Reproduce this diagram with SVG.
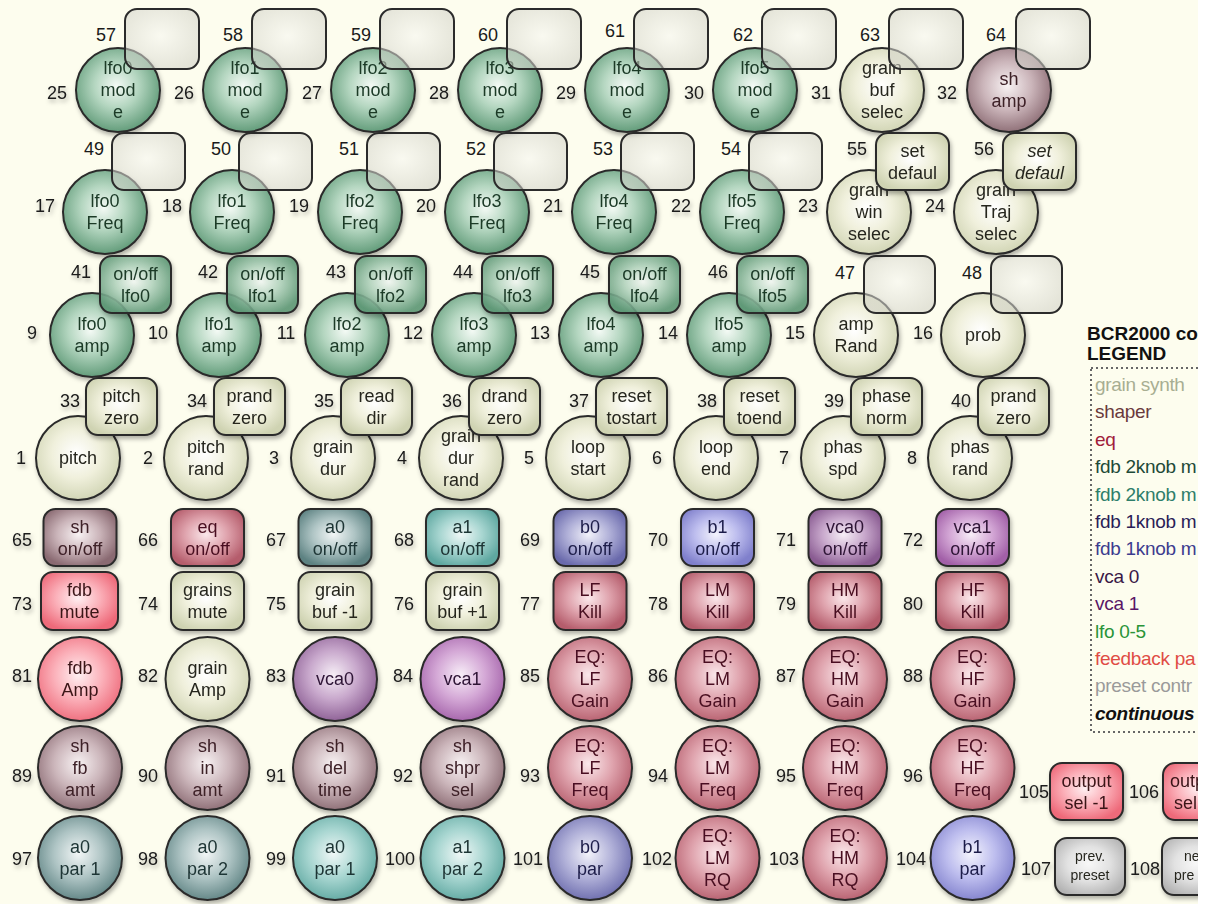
<svg xmlns="http://www.w3.org/2000/svg" width="1210" height="904" viewBox="0 0 1210 904">
<defs>
<style>
.num{font-family:"Liberation Sans",Arial,sans-serif;font-size:18px;fill:#1a1a1a;text-anchor:middle}
.t{font-family:"Liberation Sans",Arial,sans-serif;font-size:18px;text-anchor:middle;fill:#26261f}
.k{stroke:#2b2b2b;stroke-width:2}
.sd{filter:url(#ds)}
.fG{fill:url(#gG)}.fC{fill:url(#gC)}.fS{fill:url(#gS)}.fE{fill:url(#gE)}.fF{fill:url(#gF)}
.fV0{fill:url(#gV0)}.fV1{fill:url(#gV1)}.fA0{fill:url(#gA0)}.fA1{fill:url(#gA1)}.fB0{fill:url(#gB0)}.fB1{fill:url(#gB1)}
.fP{fill:url(#gP)}
.fX{fill:url(#gX);fill-opacity:0.55}
.fGb{fill:url(#gG);fill-opacity:0.85}
.tG{fill:#1c3a28}.tS{fill:#3e2028}.tE{fill:#4a1020}.tF{fill:#3a1418}.tV{fill:#2e1436}.tA{fill:#1e3434}.tB{fill:#1e1e4a}
.lg{font-family:"Liberation Sans",Arial,sans-serif;font-size:19px;letter-spacing:-0.3px}
</style>
<filter id="ds" x="-20%" y="-20%" width="150%" height="150%"><feDropShadow dx="1.5" dy="3" stdDeviation="2" flood-color="#000" flood-opacity="0.3"/></filter>
<radialGradient id="gG" cx="48%" cy="45%" r="58%"><stop offset="0" stop-color="#f4faf5"/><stop offset="0.45" stop-color="#b4d6c0"/><stop offset="1" stop-color="#5b9774"/></radialGradient>
<radialGradient id="gC" cx="48%" cy="45%" r="58%"><stop offset="0" stop-color="#ffffff"/><stop offset="0.5" stop-color="#f0f0dc"/><stop offset="1" stop-color="#cfd3b2"/></radialGradient>
<radialGradient id="gS" cx="48%" cy="45%" r="58%"><stop offset="0" stop-color="#f8f2f3"/><stop offset="0.5" stop-color="#cbb5ba"/><stop offset="1" stop-color="#8a6a72"/></radialGradient>
<radialGradient id="gE" cx="48%" cy="45%" r="58%"><stop offset="0" stop-color="#fbe8eb"/><stop offset="0.5" stop-color="#dfa3ad"/><stop offset="1" stop-color="#b55d6c"/></radialGradient>
<radialGradient id="gF" cx="48%" cy="45%" r="58%"><stop offset="0" stop-color="#fff0f2"/><stop offset="0.5" stop-color="#fbb0b9"/><stop offset="1" stop-color="#ee6a7a"/></radialGradient>
<radialGradient id="gV0" cx="48%" cy="45%" r="58%"><stop offset="0" stop-color="#f6eef6"/><stop offset="0.5" stop-color="#c8a8cc"/><stop offset="1" stop-color="#8a5c92"/></radialGradient>
<radialGradient id="gV1" cx="48%" cy="45%" r="58%"><stop offset="0" stop-color="#f8eef8"/><stop offset="0.5" stop-color="#d4a8d6"/><stop offset="1" stop-color="#a260a8"/></radialGradient>
<radialGradient id="gA0" cx="48%" cy="45%" r="58%"><stop offset="0" stop-color="#f2f6f6"/><stop offset="0.5" stop-color="#aec4c4"/><stop offset="1" stop-color="#5d8282"/></radialGradient>
<radialGradient id="gA1" cx="48%" cy="45%" r="58%"><stop offset="0" stop-color="#f0f8f7"/><stop offset="0.5" stop-color="#a8d6d1"/><stop offset="1" stop-color="#5fa8a1"/></radialGradient>
<radialGradient id="gB0" cx="48%" cy="45%" r="58%"><stop offset="0" stop-color="#f2f2fa"/><stop offset="0.5" stop-color="#b0b0d8"/><stop offset="1" stop-color="#6a6aac"/></radialGradient>
<radialGradient id="gB1" cx="48%" cy="45%" r="58%"><stop offset="0" stop-color="#f4f4fd"/><stop offset="0.5" stop-color="#bdbdee"/><stop offset="1" stop-color="#8080cc"/></radialGradient>
<radialGradient id="gP" cx="48%" cy="45%" r="60%"><stop offset="0" stop-color="#f8f8f8"/><stop offset="0.5" stop-color="#e2e2e2"/><stop offset="1" stop-color="#b4b4b4"/></radialGradient>
<radialGradient id="gX" cx="48%" cy="45%" r="60%"><stop offset="0" stop-color="#f6f6f2"/><stop offset="1" stop-color="#cfcfc6"/></radialGradient>
<clipPath id="vis"><rect x="0" y="0" width="1198" height="904"/></clipPath>
</defs>
<rect x="0" y="0" width="1210" height="904" fill="#ffffff"/>
<rect x="0" y="0" width="1198" height="904" fill="#fdfdee"/>

<!-- Row A: circles 25-32, boxes 57-64 -->
<g id="k25" class="sd"><circle class="k fG" cx="118" cy="90" r="42"/><text class="t tG"><tspan x="118" y="74">lfo0</tspan><tspan x="118" y="96">mod</tspan><tspan x="118" y="118">e</tspan></text><text class="num" x="57" y="99">25</text></g>
<g id="b57"><rect class="k fX" x="125" y="9" width="74" height="60" rx="12"/><text class="num" x="106" y="41">57</text></g>
<g id="k26" class="sd"><circle class="k fG" cx="245" cy="90" r="42"/><text class="t tG"><tspan x="245" y="74">lfo1</tspan><tspan x="245" y="96">mod</tspan><tspan x="245" y="118">e</tspan></text><text class="num" x="184" y="99">26</text></g>
<g id="b58"><rect class="k fX" x="252" y="9" width="74" height="60" rx="12"/><text class="num" x="233" y="41">58</text></g>
<g id="k27" class="sd"><circle class="k fG" cx="373" cy="90" r="42"/><text class="t tG"><tspan x="373" y="74">lfo2</tspan><tspan x="373" y="96">mod</tspan><tspan x="373" y="118">e</tspan></text><text class="num" x="312" y="99">27</text></g>
<g id="b59"><rect class="k fX" x="380" y="9" width="74" height="60" rx="12"/><text class="num" x="361" y="41">59</text></g>
<g id="k28" class="sd"><circle class="k fG" cx="500" cy="90" r="42"/><text class="t tG"><tspan x="500" y="74">lfo3</tspan><tspan x="500" y="96">mod</tspan><tspan x="500" y="118">e</tspan></text><text class="num" x="439" y="99">28</text></g>
<g id="b60"><rect class="k fX" x="507" y="9" width="74" height="60" rx="12"/><text class="num" x="488" y="41">60</text></g>
<g id="k29" class="sd"><circle class="k fG" cx="627" cy="90" r="42"/><text class="t tG"><tspan x="627" y="74">lfo4</tspan><tspan x="627" y="96">mod</tspan><tspan x="627" y="118">e</tspan></text><text class="num" x="566" y="99">29</text></g>
<g id="b61"><rect class="k fX" x="634" y="9" width="74" height="60" rx="12"/><text class="num" x="615" y="37">61</text></g>
<g id="k30" class="sd"><circle class="k fG" cx="755" cy="90" r="42"/><text class="t tG"><tspan x="755" y="74">lfo5</tspan><tspan x="755" y="96">mod</tspan><tspan x="755" y="118">e</tspan></text><text class="num" x="694" y="99">30</text></g>
<g id="b62"><rect class="k fX" x="762" y="9" width="74" height="60" rx="12"/><text class="num" x="743" y="41">62</text></g>
<g id="k31" class="sd"><circle class="k fC" cx="882" cy="90" r="42"/><text class="t"><tspan x="882" y="74">grain</tspan><tspan x="882" y="96">buf</tspan><tspan x="882" y="118">selec</tspan></text><text class="num" x="821" y="99">31</text></g>
<g id="b63"><rect class="k fX" x="889" y="9" width="74" height="60" rx="12"/><text class="num" x="870" y="41">63</text></g>
<g id="k32" class="sd"><circle class="k fS" cx="1009" cy="90" r="42"/><text class="t tS"><tspan x="1009" y="85">sh</tspan><tspan x="1009" y="107">amp</tspan></text><text class="num" x="947" y="99">32</text></g>
<g id="b64"><rect class="k fX" x="1016" y="9" width="74" height="60" rx="12"/><text class="num" x="996" y="41">64</text></g>

<!-- Row B: circles 17-24, boxes 49-56 -->
<g id="k17" class="sd"><circle class="k fG" cx="105" cy="212" r="42"/><text class="t tG"><tspan x="105" y="207">lfo0</tspan><tspan x="105" y="229">Freq</tspan></text><text class="num" x="45" y="212">17</text></g>
<g id="b49"><rect class="k fX" x="112" y="133" width="73" height="57" rx="12"/><text class="num" x="94" y="155">49</text></g>
<g id="k18" class="sd"><circle class="k fG" cx="232" cy="212" r="42"/><text class="t tG"><tspan x="232" y="207">lfo1</tspan><tspan x="232" y="229">Freq</tspan></text><text class="num" x="172" y="212">18</text></g>
<g id="b50"><rect class="k fX" x="239" y="133" width="73" height="57" rx="12"/><text class="num" x="221" y="155">50</text></g>
<g id="k19" class="sd"><circle class="k fG" cx="360" cy="212" r="42"/><text class="t tG"><tspan x="360" y="207">lfo2</tspan><tspan x="360" y="229">Freq</tspan></text><text class="num" x="299" y="212">19</text></g>
<g id="b51"><rect class="k fX" x="367" y="133" width="73" height="57" rx="12"/><text class="num" x="349" y="155">51</text></g>
<g id="k20" class="sd"><circle class="k fG" cx="487" cy="212" r="42"/><text class="t tG"><tspan x="487" y="207">lfo3</tspan><tspan x="487" y="229">Freq</tspan></text><text class="num" x="426" y="212">20</text></g>
<g id="b52"><rect class="k fX" x="494" y="133" width="73" height="57" rx="12"/><text class="num" x="476" y="155">52</text></g>
<g id="k21" class="sd"><circle class="k fG" cx="614" cy="212" r="42"/><text class="t tG"><tspan x="614" y="207">lfo4</tspan><tspan x="614" y="229">Freq</tspan></text><text class="num" x="553" y="212">21</text></g>
<g id="b53"><rect class="k fX" x="621" y="133" width="73" height="57" rx="12"/><text class="num" x="603" y="155">53</text></g>
<g id="k22" class="sd"><circle class="k fG" cx="742" cy="212" r="42"/><text class="t tG"><tspan x="742" y="207">lfo5</tspan><tspan x="742" y="229">Freq</tspan></text><text class="num" x="681" y="212">22</text></g>
<g id="b54"><rect class="k fX" x="749" y="133" width="73" height="57" rx="12"/><text class="num" x="731" y="155">54</text></g>
<g id="k23" class="sd"><circle class="k fC" cx="869" cy="212" r="42"/><text class="t"><tspan x="869" y="196">grain</tspan><tspan x="869" y="218">win</tspan><tspan x="869" y="240">selec</tspan></text><text class="num" x="808" y="212">23</text></g>
<g id="b55" class="sd"><rect class="k fC" x="876" y="133" width="73" height="57" rx="12"/><text class="t"><tspan x="912.5" y="156.5">set</tspan><tspan x="912.5" y="178.5">defaul</tspan></text><text class="num" x="857" y="155">55</text></g>
<g id="k24" class="sd"><circle class="k fC" cx="996" cy="212" r="42"/><text class="t"><tspan x="996" y="196">grain</tspan><tspan x="996" y="218">Traj</tspan><tspan x="996" y="240">selec</tspan></text><text class="num" x="935" y="212">24</text></g>
<g id="b56" class="sd"><rect class="k fC" x="1003" y="133" width="73" height="57" rx="12"/><text class="t" font-style="italic"><tspan x="1039.5" y="156.5">set</tspan><tspan x="1039.5" y="178.5">defaul</tspan></text><text class="num" x="984" y="155">56</text></g>

<!-- Row C: circles 9-16, boxes 41-48 -->
<g id="k9" class="sd"><circle class="k fG" cx="92" cy="335" r="42"/><text class="t tG"><tspan x="92" y="330">lfo0</tspan><tspan x="92" y="352">amp</tspan></text><text class="num" x="32" y="339">9</text></g>
<g id="b41" class="sd"><rect class="k fGb" x="100" y="256" width="71" height="57" rx="12"/><text class="t tG"><tspan x="135.5" y="279.5">on/off</tspan><tspan x="135.5" y="301.5">lfo0</tspan></text><text class="num" x="81" y="278">41</text></g>
<g id="k10" class="sd"><circle class="k fG" cx="219" cy="335" r="42"/><text class="t tG"><tspan x="219" y="330">lfo1</tspan><tspan x="219" y="352">amp</tspan></text><text class="num" x="158" y="339">10</text></g>
<g id="b42" class="sd"><rect class="k fGb" x="227" y="256" width="71" height="57" rx="12"/><text class="t tG"><tspan x="262.5" y="279.5">on/off</tspan><tspan x="262.5" y="301.5">lfo1</tspan></text><text class="num" x="208" y="278">42</text></g>
<g id="k11" class="sd"><circle class="k fG" cx="347" cy="335" r="42"/><text class="t tG"><tspan x="347" y="330">lfo2</tspan><tspan x="347" y="352">amp</tspan></text><text class="num" x="286" y="339">11</text></g>
<g id="b43" class="sd"><rect class="k fGb" x="355" y="256" width="71" height="57" rx="12"/><text class="t tG"><tspan x="390.5" y="279.5">on/off</tspan><tspan x="390.5" y="301.5">lfo2</tspan></text><text class="num" x="336" y="278">43</text></g>
<g id="k12" class="sd"><circle class="k fG" cx="474" cy="335" r="42"/><text class="t tG"><tspan x="474" y="330">lfo3</tspan><tspan x="474" y="352">amp</tspan></text><text class="num" x="413" y="339">12</text></g>
<g id="b44" class="sd"><rect class="k fGb" x="482" y="256" width="71" height="57" rx="12"/><text class="t tG"><tspan x="517.5" y="279.5">on/off</tspan><tspan x="517.5" y="301.5">lfo3</tspan></text><text class="num" x="463" y="278">44</text></g>
<g id="k13" class="sd"><circle class="k fG" cx="601" cy="335" r="42"/><text class="t tG"><tspan x="601" y="330">lfo4</tspan><tspan x="601" y="352">amp</tspan></text><text class="num" x="540" y="339">13</text></g>
<g id="b45" class="sd"><rect class="k fGb" x="609" y="256" width="71" height="57" rx="12"/><text class="t tG"><tspan x="644.5" y="279.5">on/off</tspan><tspan x="644.5" y="301.5">lfo4</tspan></text><text class="num" x="590" y="278">45</text></g>
<g id="k14" class="sd"><circle class="k fG" cx="729" cy="335" r="42"/><text class="t tG"><tspan x="729" y="330">lfo5</tspan><tspan x="729" y="352">amp</tspan></text><text class="num" x="668" y="339">14</text></g>
<g id="b46" class="sd"><rect class="k fGb" x="737" y="256" width="71" height="57" rx="12"/><text class="t tG"><tspan x="772.5" y="279.5">on/off</tspan><tspan x="772.5" y="301.5">lfo5</tspan></text><text class="num" x="718" y="278">46</text></g>
<g id="k15" class="sd"><circle class="k fC" cx="856" cy="335" r="42"/><text class="t"><tspan x="856" y="330">amp</tspan><tspan x="856" y="352">Rand</tspan></text><text class="num" x="795" y="339">15</text></g>
<g id="b47"><rect class="k fX" x="864" y="256" width="71" height="57" rx="12"/><text class="num" x="845" y="279">47</text></g>
<g id="k16" class="sd"><circle class="k fC" cx="983" cy="335" r="42"/><text class="t"><tspan x="983" y="341">prob</tspan></text><text class="num" x="923" y="339">16</text></g>
<g id="b48"><rect class="k fX" x="991" y="256" width="71" height="57" rx="12"/><text class="num" x="972" y="279">48</text></g>

<!-- Row D: circles 1-8, boxes 33-40 -->
<g id="k1" class="sd"><circle class="k fC" cx="78" cy="458" r="42"/><text class="t"><tspan x="78" y="464">pitch</tspan></text><text class="num" x="21" y="464">1</text></g>
<g id="b33" class="sd"><rect class="k fC" x="86" y="378" width="71" height="57" rx="12"/><text class="t"><tspan x="121.5" y="401.5">pitch</tspan><tspan x="121.5" y="423.5">zero</tspan></text><text class="num" x="70" y="407">33</text></g>
<g id="k2" class="sd"><circle class="k fC" cx="206" cy="458" r="42"/><text class="t"><tspan x="206" y="453">pitch</tspan><tspan x="206" y="475">rand</tspan></text><text class="num" x="148" y="464">2</text></g>
<g id="b34" class="sd"><rect class="k fC" x="214" y="378" width="71" height="57" rx="12"/><text class="t"><tspan x="249.5" y="401.5">prand</tspan><tspan x="249.5" y="423.5">zero</tspan></text><text class="num" x="197" y="407">34</text></g>
<g id="k3" class="sd"><circle class="k fC" cx="333" cy="458" r="42"/><text class="t"><tspan x="333" y="453">grain</tspan><tspan x="333" y="475">dur</tspan></text><text class="num" x="274" y="464">3</text></g>
<g id="b35" class="sd"><rect class="k fC" x="341" y="378" width="71" height="57" rx="12"/><text class="t"><tspan x="376.5" y="401.5">read</tspan><tspan x="376.5" y="423.5">dir</tspan></text><text class="num" x="324" y="407">35</text></g>
<g id="k4" class="sd"><circle class="k fC" cx="461" cy="458" r="42"/><text class="t"><tspan x="461" y="442">grain</tspan><tspan x="461" y="464">dur</tspan><tspan x="461" y="486">rand</tspan></text><text class="num" x="402" y="464">4</text></g>
<g id="b36" class="sd"><rect class="k fC" x="469" y="378" width="71" height="57" rx="12"/><text class="t"><tspan x="504.5" y="401.5">drand</tspan><tspan x="504.5" y="423.5">zero</tspan></text><text class="num" x="452" y="407">36</text></g>
<g id="k5" class="sd"><circle class="k fC" cx="588" cy="458" r="42"/><text class="t"><tspan x="588" y="453">loop</tspan><tspan x="588" y="475">start</tspan></text><text class="num" x="529" y="464">5</text></g>
<g id="b37" class="sd"><rect class="k fC" x="596" y="378" width="71" height="57" rx="12"/><text class="t"><tspan x="631.5" y="401.5">reset</tspan><tspan x="631.5" y="423.5">tostart</tspan></text><text class="num" x="579" y="407">37</text></g>
<g id="k6" class="sd"><circle class="k fC" cx="716" cy="458" r="42"/><text class="t"><tspan x="716" y="453">loop</tspan><tspan x="716" y="475">end</tspan></text><text class="num" x="657" y="464">6</text></g>
<g id="b38" class="sd"><rect class="k fC" x="724" y="378" width="71" height="57" rx="12"/><text class="t"><tspan x="759.5" y="401.5">reset</tspan><tspan x="759.5" y="423.5">toend</tspan></text><text class="num" x="707" y="407">38</text></g>
<g id="k7" class="sd"><circle class="k fC" cx="843" cy="458" r="42"/><text class="t"><tspan x="843" y="453">phas</tspan><tspan x="843" y="475">spd</tspan></text><text class="num" x="784" y="464">7</text></g>
<g id="b39" class="sd"><rect class="k fC" x="851" y="378" width="71" height="57" rx="12"/><text class="t"><tspan x="886.5" y="401.5">phase</tspan><tspan x="886.5" y="423.5">norm</tspan></text><text class="num" x="834" y="407">39</text></g>
<g id="k8" class="sd"><circle class="k fC" cx="970" cy="458" r="42"/><text class="t"><tspan x="970" y="453">phas</tspan><tspan x="970" y="475">rand</tspan></text><text class="num" x="912" y="464">8</text></g>
<g id="b40" class="sd"><rect class="k fC" x="978" y="378" width="71" height="57" rx="12"/><text class="t"><tspan x="1013.5" y="401.5">prand</tspan><tspan x="1013.5" y="423.5">zero</tspan></text><text class="num" x="961" y="407">40</text></g>

<!-- Row E: boxes 65-72 -->
<g id="b65" class="sd"><rect class="k fS" x="43.5" y="509" width="73" height="57" rx="12"/><text class="t tS"><tspan x="80" y="532.5">sh</tspan><tspan x="80" y="554.5">on/off</tspan></text><text class="num" x="22" y="546">65</text></g>
<g id="b66" class="sd"><rect class="k fE" x="171" y="509" width="73" height="57" rx="12"/><text class="t tE"><tspan x="207.5" y="532.5">eq</tspan><tspan x="207.5" y="554.5">on/off</tspan></text><text class="num" x="148" y="546">66</text></g>
<g id="b67" class="sd"><rect class="k fA0" x="298.5" y="509" width="73" height="57" rx="12"/><text class="t tA"><tspan x="335" y="532.5">a0</tspan><tspan x="335" y="554.5">on/off</tspan></text><text class="num" x="276" y="546">67</text></g>
<g id="b68" class="sd"><rect class="k fA1" x="426" y="509" width="73" height="57" rx="12"/><text class="t tA"><tspan x="462.5" y="532.5">a1</tspan><tspan x="462.5" y="554.5">on/off</tspan></text><text class="num" x="404" y="546">68</text></g>
<g id="b69" class="sd"><rect class="k fB0" x="553.5" y="509" width="73" height="57" rx="12"/><text class="t tB"><tspan x="590" y="532.5">b0</tspan><tspan x="590" y="554.5">on/off</tspan></text><text class="num" x="530" y="546">69</text></g>
<g id="b70" class="sd"><rect class="k fB1" x="681" y="509" width="73" height="57" rx="12"/><text class="t tB"><tspan x="717.5" y="532.5">b1</tspan><tspan x="717.5" y="554.5">on/off</tspan></text><text class="num" x="658" y="546">70</text></g>
<g id="b71" class="sd"><rect class="k fV0" x="808.5" y="509" width="73" height="57" rx="12"/><text class="t tV"><tspan x="845" y="532.5">vca0</tspan><tspan x="845" y="554.5">on/off</tspan></text><text class="num" x="786" y="546">71</text></g>
<g id="b72" class="sd"><rect class="k fV1" x="936" y="509" width="73" height="57" rx="12"/><text class="t tV"><tspan x="972.5" y="532.5">vca1</tspan><tspan x="972.5" y="554.5">on/off</tspan></text><text class="num" x="913" y="546">72</text></g>

<!-- Row F: boxes 73-80 -->
<g id="b73" class="sd"><rect class="k fF" x="41" y="572" width="77" height="58" rx="12"/><text class="t tF"><tspan x="79.5" y="596">fdb</tspan><tspan x="79.5" y="618">mute</tspan></text><text class="num" x="22" y="610">73</text></g>
<g id="b74" class="sd"><rect class="k fC" x="171" y="572" width="73" height="58" rx="12"/><text class="t"><tspan x="207.5" y="596">grains</tspan><tspan x="207.5" y="618">mute</tspan></text><text class="num" x="148" y="610">74</text></g>
<g id="b75" class="sd"><rect class="k fC" x="298.5" y="572" width="73" height="58" rx="12"/><text class="t"><tspan x="335" y="596">grain</tspan><tspan x="335" y="618">buf -1</tspan></text><text class="num" x="276" y="610">75</text></g>
<g id="b76" class="sd"><rect class="k fC" x="426" y="572" width="73" height="58" rx="12"/><text class="t"><tspan x="462.5" y="596">grain</tspan><tspan x="462.5" y="618">buf +1</tspan></text><text class="num" x="404" y="610">76</text></g>
<g id="b77" class="sd"><rect class="k fE" x="553.5" y="572" width="73" height="58" rx="12"/><text class="t tE"><tspan x="590" y="596">LF</tspan><tspan x="590" y="618">Kill</tspan></text><text class="num" x="530" y="610">77</text></g>
<g id="b78" class="sd"><rect class="k fE" x="681" y="572" width="73" height="58" rx="12"/><text class="t tE"><tspan x="717.5" y="596">LM</tspan><tspan x="717.5" y="618">Kill</tspan></text><text class="num" x="658" y="610">78</text></g>
<g id="b79" class="sd"><rect class="k fE" x="808.5" y="572" width="73" height="58" rx="12"/><text class="t tE"><tspan x="845" y="596">HM</tspan><tspan x="845" y="618">Kill</tspan></text><text class="num" x="786" y="610">79</text></g>
<g id="b80" class="sd"><rect class="k fE" x="936" y="572" width="73" height="58" rx="12"/><text class="t tE"><tspan x="972.5" y="596">HF</tspan><tspan x="972.5" y="618">Kill</tspan></text><text class="num" x="913" y="610">80</text></g>

<!-- Row G: circles 81-88 -->
<g id="k81" class="sd"><circle class="k fF" cx="80" cy="679" r="42"/><text class="t tF"><tspan x="80" y="674">fdb</tspan><tspan x="80" y="696">Amp</tspan></text><text class="num" x="22" y="682">81</text></g>
<g id="k82" class="sd"><circle class="k fC" cx="207.5" cy="679" r="42"/><text class="t"><tspan x="207.5" y="674">grain</tspan><tspan x="207.5" y="696">Amp</tspan></text><text class="num" x="148" y="682">82</text></g>
<g id="k83" class="sd"><circle class="k fV0" cx="335" cy="679" r="42"/><text class="t tV"><tspan x="335" y="685">vca0</tspan></text><text class="num" x="276" y="682">83</text></g>
<g id="k84" class="sd"><circle class="k fV1" cx="462.5" cy="679" r="42"/><text class="t tV"><tspan x="462.5" y="685">vca1</tspan></text><text class="num" x="403" y="682">84</text></g>
<g id="k85" class="sd"><circle class="k fE" cx="590" cy="679" r="42"/><text class="t tE"><tspan x="590" y="663">EQ:</tspan><tspan x="590" y="685">LF</tspan><tspan x="590" y="707">Gain</tspan></text><text class="num" x="530" y="682">85</text></g>
<g id="k86" class="sd"><circle class="k fE" cx="717.5" cy="679" r="42"/><text class="t tE"><tspan x="717.5" y="663">EQ:</tspan><tspan x="717.5" y="685">LM</tspan><tspan x="717.5" y="707">Gain</tspan></text><text class="num" x="658" y="682">86</text></g>
<g id="k87" class="sd"><circle class="k fE" cx="845" cy="679" r="42"/><text class="t tE"><tspan x="845" y="663">EQ:</tspan><tspan x="845" y="685">HM</tspan><tspan x="845" y="707">Gain</tspan></text><text class="num" x="786" y="682">87</text></g>
<g id="k88" class="sd"><circle class="k fE" cx="972.5" cy="679" r="42"/><text class="t tE"><tspan x="972.5" y="663">EQ:</tspan><tspan x="972.5" y="685">HF</tspan><tspan x="972.5" y="707">Gain</tspan></text><text class="num" x="913" y="682">88</text></g>

<!-- Row H: circles 89-96 -->
<g id="k89" class="sd"><circle class="k fS" cx="80" cy="768" r="42"/><text class="t tS"><tspan x="80" y="752">sh</tspan><tspan x="80" y="774">fb</tspan><tspan x="80" y="796">amt</tspan></text><text class="num" x="22" y="782">89</text></g>
<g id="k90" class="sd"><circle class="k fS" cx="207.5" cy="768" r="42"/><text class="t tS"><tspan x="207.5" y="752">sh</tspan><tspan x="207.5" y="774">in</tspan><tspan x="207.5" y="796">amt</tspan></text><text class="num" x="148" y="782">90</text></g>
<g id="k91" class="sd"><circle class="k fS" cx="335" cy="768" r="42"/><text class="t tS"><tspan x="335" y="752">sh</tspan><tspan x="335" y="774">del</tspan><tspan x="335" y="796">time</tspan></text><text class="num" x="276" y="782">91</text></g>
<g id="k92" class="sd"><circle class="k fS" cx="462.5" cy="768" r="42"/><text class="t tS"><tspan x="462.5" y="752">sh</tspan><tspan x="462.5" y="774">shpr</tspan><tspan x="462.5" y="796">sel</tspan></text><text class="num" x="403" y="782">92</text></g>
<g id="k93" class="sd"><circle class="k fE" cx="590" cy="768" r="42"/><text class="t tE"><tspan x="590" y="752">EQ:</tspan><tspan x="590" y="774">LF</tspan><tspan x="590" y="796">Freq</tspan></text><text class="num" x="530" y="782">93</text></g>
<g id="k94" class="sd"><circle class="k fE" cx="717.5" cy="768" r="42"/><text class="t tE"><tspan x="717.5" y="752">EQ:</tspan><tspan x="717.5" y="774">LM</tspan><tspan x="717.5" y="796">Freq</tspan></text><text class="num" x="658" y="782">94</text></g>
<g id="k95" class="sd"><circle class="k fE" cx="845" cy="768" r="42"/><text class="t tE"><tspan x="845" y="752">EQ:</tspan><tspan x="845" y="774">HM</tspan><tspan x="845" y="796">Freq</tspan></text><text class="num" x="786" y="782">95</text></g>
<g id="k96" class="sd"><circle class="k fE" cx="972.5" cy="768" r="42"/><text class="t tE"><tspan x="972.5" y="752">EQ:</tspan><tspan x="972.5" y="774">HF</tspan><tspan x="972.5" y="796">Freq</tspan></text><text class="num" x="913" y="782">96</text></g>

<!-- Row I: circles 97-104 -->
<g id="k97" class="sd"><circle class="k fA0" cx="80" cy="858" r="42"/><text class="t tA"><tspan x="80" y="853">a0</tspan><tspan x="80" y="875">par 1</tspan></text><text class="num" x="22" y="865">97</text></g>
<g id="k98" class="sd"><circle class="k fA0" cx="207.5" cy="858" r="42"/><text class="t tA"><tspan x="207.5" y="853">a0</tspan><tspan x="207.5" y="875">par 2</tspan></text><text class="num" x="148" y="865">98</text></g>
<g id="k99" class="sd"><circle class="k fA1" cx="335" cy="858" r="42"/><text class="t tA"><tspan x="335" y="853">a0</tspan><tspan x="335" y="875">par 1</tspan></text><text class="num" x="276" y="865">99</text></g>
<g id="k100" class="sd"><circle class="k fA1" cx="462.5" cy="858" r="42"/><text class="t tA"><tspan x="462.5" y="853">a1</tspan><tspan x="462.5" y="875">par 2</tspan></text><text class="num" x="400" y="865">100</text></g>
<g id="k101" class="sd"><circle class="k fB0" cx="590" cy="858" r="42"/><text class="t tB"><tspan x="590" y="853">b0</tspan><tspan x="590" y="875">par</tspan></text><text class="num" x="528" y="865">101</text></g>
<g id="k102" class="sd"><circle class="k fE" cx="717.5" cy="858" r="42"/><text class="t tE"><tspan x="717.5" y="842">EQ:</tspan><tspan x="717.5" y="864">LM</tspan><tspan x="717.5" y="886">RQ</tspan></text><text class="num" x="657" y="865">102</text></g>
<g id="k103" class="sd"><circle class="k fE" cx="845" cy="858" r="42"/><text class="t tE"><tspan x="845" y="842">EQ:</tspan><tspan x="845" y="864">HM</tspan><tspan x="845" y="886">RQ</tspan></text><text class="num" x="784" y="865">103</text></g>
<g id="k104" class="sd"><circle class="k fB1" cx="972.5" cy="858" r="42"/><text class="t tB"><tspan x="972.5" y="853">b1</tspan><tspan x="972.5" y="875">par</tspan></text><text class="num" x="911" y="865">104</text></g>

<!-- right side boxes 105-108 and legend (clipped at image edge) -->
<g clip-path="url(#vis)">
<g id="b105" class="sd"><rect class="k fF" x="1050" y="763" width="73" height="57" rx="12"/><text class="t tF"><tspan x="1086.5" y="786.5">output</tspan><tspan x="1086.5" y="808.5">sel -1</tspan></text><text class="num" x="1034" y="798">105</text></g>
<g id="b106" class="sd"><rect class="k fF" x="1163" y="763" width="73" height="57" rx="12"/><text class="t tF" style="text-anchor:start"><tspan x="1170" y="786.5">outp</tspan><tspan x="1174" y="808.5">sel</tspan></text><text class="num" x="1144" y="798">106</text></g>
<g id="b107" class="sd"><rect class="k fP" x="1055" y="838" width="70" height="57" rx="12"/><text class="t" style="font-size:14px"><tspan x="1090" y="861">prev.</tspan><tspan x="1090" y="880">preset</tspan></text><text class="num" x="1036" y="875">107</text></g>
<g id="b108" class="sd"><rect class="k fP" x="1162" y="838" width="70" height="57" rx="12"/><text class="t" style="font-size:14px;text-anchor:start"><tspan x="1184" y="861">ne</tspan><tspan x="1174" y="880">pre</tspan></text><text class="num" x="1145" y="875">108</text></g>

<g id="legend">
<text x="1087" y="340" style="font-family:'Liberation Sans',Arial,sans-serif;font-size:19px;font-weight:bold;fill:#111">BCR2000 co</text>
<text x="1087" y="360" style="font-family:'Liberation Sans',Arial,sans-serif;font-size:19px;font-weight:bold;fill:#111">LEGEND</text>
<rect x="1091" y="368" width="200" height="364" fill="none" stroke="#666" stroke-width="2" stroke-dasharray="2 3"/>
<text class="lg" x="1095" y="391" fill="#a8ae92">grain synth</text>
<text class="lg" x="1095" y="418" fill="#6a3a3c">shaper</text>
<text class="lg" x="1095" y="446" fill="#a0203a">eq</text>
<text class="lg" x="1095" y="473" fill="#1e4a38">fdb 2knob m</text>
<text class="lg" x="1095" y="501" fill="#2e7e6a">fdb 2knob m</text>
<text class="lg" x="1095" y="528" fill="#2a1e58">fdb 1knob m</text>
<text class="lg" x="1095" y="555" fill="#3c3c8e">fdb 1knob m</text>
<text class="lg" x="1095" y="583" fill="#3a1846">vca 0</text>
<text class="lg" x="1095" y="610" fill="#5a1666">vca 1</text>
<text class="lg" x="1095" y="638" fill="#2a9438">lfo 0-5</text>
<text class="lg" x="1095" y="665" fill="#e04c44">feedback pa</text>
<text class="lg" x="1095" y="692" fill="#9a9a9a">preset contr</text>
<text class="lg" x="1095" y="720" fill="#111" font-weight="bold" font-style="italic">continuous c</text>
</g>
</g>
</svg>
